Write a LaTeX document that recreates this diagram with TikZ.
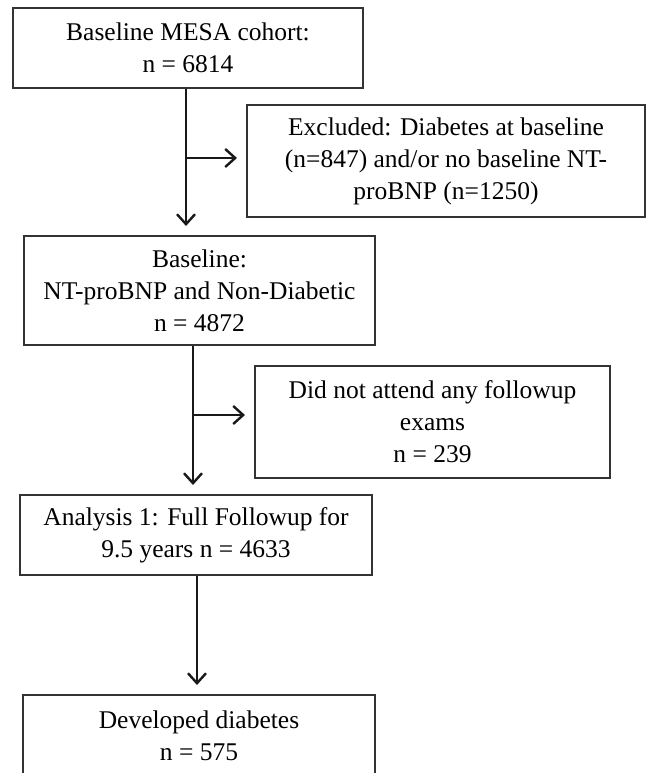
\documentclass[tikz,border=0pt]{standalone}
\usepackage{fontspec}
\setmainfont{Liberation Serif}
\usetikzlibrary{arrows.meta}

\begin{document}
\begin{tikzpicture}[x=1pt,y=-1pt,
    box/.style={draw=black!80,line width=2pt,align=center,inner sep=0pt,
      font=\fontsize{25.5}{32}\selectfont},
    flow/.style={-{Straight Barb[length=10pt,width=18pt,line width=2.4pt]},
      line width=2.2pt,black!90,shorten >=9pt}]
  \useasboundingbox (0,0) rectangle (647,773);
  \clip (0,0) rectangle (647,773);

  \node[box,minimum width=350pt,minimum height=80pt] (cohort) at (188,48)
    {Baseline MESA cohort:\\n = 6814};
  \node[box,minimum width=398pt,minimum height=112pt] (excluded) at (446,161)
    {Excluded: Diabetes at baseline\\(n=847) and/or no baseline NT-\\proBNP (n=1250)};
  \node[box,minimum width=351pt,minimum height=109pt] (baseline) at (199.5,290.5)
    {Baseline:\\NT-proBNP and Non-Diabetic\\n = 4872};
  \node[box,minimum width=355pt,minimum height=112pt] (noexam) at (432.5,422)
    {Did not attend any followup\\exams\\n = 239};
  \node[box,minimum width=352pt,minimum height=80pt] (analysis) at (196,535)
    {Analysis 1: Full Followup for\\9.5 years n = 4633};
  \node[box,minimum width=352pt,minimum height=82pt] (developed) at (199,736)
    {Developed diabetes\\n = 575};

  \coordinate (split1) at (186,158);
  \coordinate (split2) at (193,415);
  \coordinate (split3) at (197,635);

  \draw[flow] (cohort.south -| split1) -- (baseline.north -| split1);
  \draw[flow] (split1) -- (split1 -| excluded.west);
  \draw[flow] (baseline.south -| split2) -- (analysis.north -| split2);
  \draw[flow] (split2) -- (split2 -| noexam.west);
  \draw[flow] (analysis.south -| split3) -- (developed.north -| split3);
\end{tikzpicture}
\end{document}
